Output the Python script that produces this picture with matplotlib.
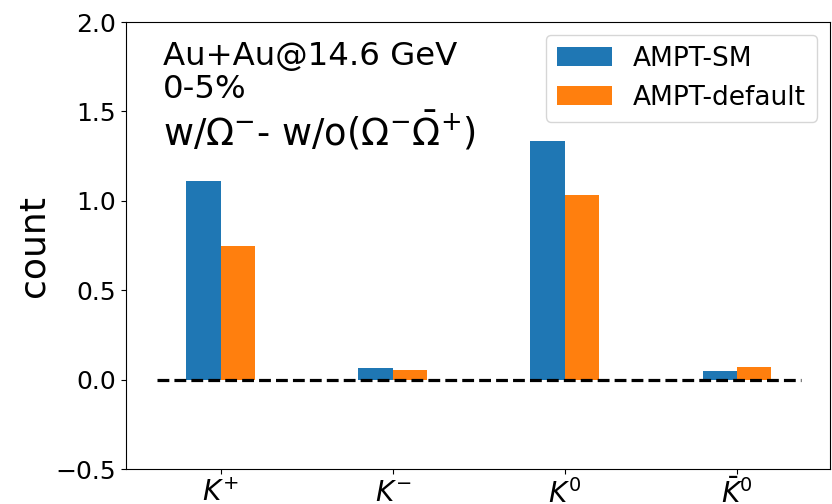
import matplotlib
matplotlib.use("Agg")
import matplotlib.pyplot as plt
import numpy as np

particles = [r"$K^{+}$", r"$K^{-}$", r"$K^{0}$", r"$\bar{K}^{0}$"]
ampt_sm = [1.11, 0.064, 1.335, 0.047]
ampt_default = [0.745, 0.052, 1.035, 0.068]

x = np.arange(len(particles))
width = 0.2

fig = plt.figure(figsize=(8.32, 5.04), dpi=100)
ax = fig.add_axes([0.1514, 0.0694, 0.8462, 0.8869])

ax.bar(x - width / 2, ampt_sm, width, color="#1f77b4", label="AMPT-SM")
ax.bar(x + width / 2, ampt_default, width, color="#ff7f0e", label="AMPT-default")
ax.hlines(0, -0.37, 3.37, colors="black", linestyles="--", lw=2.3)

ax.set_xlim(-0.55, 3.54)
ax.set_ylim(-0.5, 2.0)
ax.set_xticks(x)
ax.set_xticklabels(particles, fontsize=20)
ax.set_yticks([-0.5, 0.0, 0.5, 1.0, 1.5, 2.0])
ax.tick_params(axis="y", labelsize=18)
ax.set_ylabel("count", fontsize=26)

ax.text(0.052, 0.904, "Au+Au@14.6 GeV", transform=ax.transAxes, fontsize=23.3)
ax.text(0.052, 0.830, "0-5%", transform=ax.transAxes, fontsize=23.3)
ax.text(0.052, 0.724, r"w/$\Omega^{-}$- w/o($\Omega^{-}\bar{\Omega}^{+}$)",
        transform=ax.transAxes, fontsize=26.5)

ax.legend(loc="upper right", fontsize=19, handlelength=2.1)

fig.savefig("out.png", dpi=100)
